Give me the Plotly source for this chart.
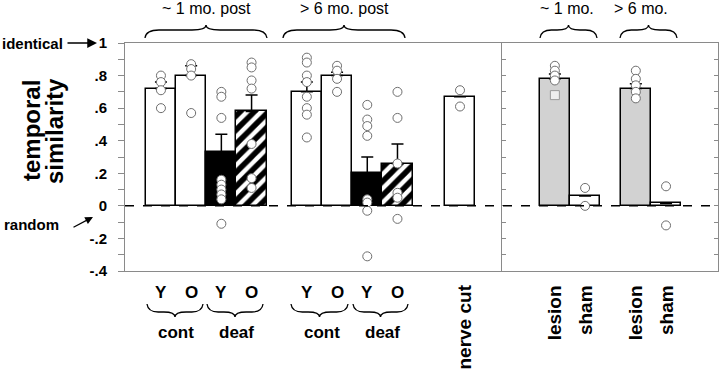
import plotly.graph_objects as go

# ---------------- data ----------------
left_labels = ["Y", "O", "Y", "O", "Y", "O", "Y", "O", "nerve cut"]
left_means = [0.72, 0.80, 0.33, 0.58, 0.70, 0.80, 0.20, 0.26, 0.67]
left_se = [0.04, 0.06, 0.11, 0.10, 0.06, 0.02, 0.10, 0.12, None]
left_points = [
    [0.80, 0.76, 0.71, 0.60],
    [0.87, 0.84, 0.80, 0.57],
    [0.70, 0.67, 0.54, 0.16, 0.13, 0.10, 0.07, 0.04, -0.11],
    [0.88, 0.85, 0.77, 0.72, 0.38, 0.17, 0.11],
    [0.91, 0.88, 0.80, 0.76, 0.67, 0.60, 0.56, 0.42],
    [0.86, 0.83, 0.78, 0.70],
    [0.62, 0.53, 0.49, 0.43, 0.04, 0.02, -0.03, -0.31],
    [0.70, 0.54, 0.26, 0.08, 0.05, -0.08],
    [0.71, 0.61],
]
left_pairs = ["cont", "deaf", "cont", "deaf"]
left_times = ["~ 1 mo. post", "> 6 mo. post"]

right_labels = ["lesion", "sham", "lesion", "sham"]
right_means = [0.78, 0.06, 0.72, 0.015]
right_se = [0.03, None, 0.03, None]
right_points = [
    [0.86, 0.83, 0.80, 0.77],
    [0.11, 0.00],
    [0.83, 0.78, 0.74, 0.70, 0.66],
    [0.12, -0.12],
]
right_square = [[0.68], [], [], []]
right_times = ["~ 1 mo.", "> 6 mo."]

y_tickvals = [-0.4, -0.2, 0, 0.2, 0.4, 0.6, 0.8, 1.0]
y_ticktext = ["-.4", "-.2", "0", ".2", ".4", ".6", ".8", "1"]

# ---------------- layout constants ----------------
FONT = "Liberation Sans, Arial, Helvetica, sans-serif"
W_PX, H_PX = 720, 373
L, T, R, B = 125, 43, 2, 102
PW, PH = W_PX - L - R, H_PX - T - B
DIV = 502  # panel divider pixel
left_x = [1, 2, 3, 4, 5.83, 6.83, 7.83, 8.83, 10.9]
right_x = [1.75, 2.75, 4.43, 5.43]
left_style = ["open", "open", "solid", "hatch", "open", "open", "solid", "hatch", "open"]
right_style = ["gray", "open", "gray", "open"]
GRAY = "#8a8a8a"


def xp(px):
    return (px - L) / PW


def yp(py):
    return (T + PH - py) / PH


fig = go.Figure()

err_style = dict(type="data", symmetric=False, color="black", thickness=1.5, width=6)
fills = {"open": "white", "solid": "black", "gray": "#d2d2d2"}


def add_bars(xs, means, ses, styles, xa, ya):
    for st in sorted(set(styles)):
        idx = [i for i, s in enumerate(styles) if s == st]
        bx = [xs[i] for i in idx]
        by = [means[i] for i in idx]
        be = [ses[i] for i in idx]
        if st == "hatch":
            marker = dict(color="white", line=dict(color="black", width=1.5),
                          pattern=dict(shape="/", fgcolor="black", bgcolor="white",
                                       fgopacity=1, size=10, solidity=0.55))
        else:
            marker = dict(color=fills[st], line=dict(color="black", width=1.5))
        fig.add_trace(go.Bar(
            x=bx, y=by, width=1.0, marker=marker,
            error_y=dict(array=be, arrayminus=[0] * len(be), **err_style),
            xaxis=xa, yaxis=ya, showlegend=False))


add_bars(left_x, left_means, left_se, left_style, "x", "y")
add_bars(right_x, right_means, right_se, right_style, "x2", "y2")

circ = dict(symbol="circle", size=9, color="white", line=dict(color="#6e6e6e", width=1))


def add_points(xs, groups, xa, ya, marker):
    px_, py_ = [], []
    for xv, pts in zip(xs, groups):
        for v in pts:
            px_.append(xv)
            py_.append(v)
    fig.add_trace(go.Scatter(x=px_, y=py_, mode="markers", marker=marker,
                             xaxis=xa, yaxis=ya, showlegend=False))


add_points(left_x, left_points, "x", "y", circ)
add_points(right_x, right_points, "x2", "y2", circ)
add_points(right_x, right_square, "x2", "y2",
           dict(symbol="square", size=9, color="#eeeeee",
                line=dict(color="#9a9a9a", width=1)))

# ---------------- shapes ----------------
shapes = []
shapes.append(dict(type="line", xref="paper", yref="y", x0=0, x1=1, y0=0, y1=0,
                   line=dict(color="black", width=1.5, dash="dash"), layer="above"))


def brace(x0, x1, y_end, y_body, y_tip):
    xc = (x0 + x1) / 2
    r = min(14, (x1 - x0) / 5)
    pts = [
        f"M {xp(x0)},{yp(y_end)}",
        f"Q {xp(x0 + 1)},{yp(y_body)} {xp(x0 + r)},{yp(y_body)}",
        f"L {xp(xc - r)},{yp(y_body)}",
        f"Q {xp(xc)},{yp(y_body)} {xp(xc)},{yp(y_tip)}",
        f"Q {xp(xc)},{yp(y_body)} {xp(xc + r)},{yp(y_body)}",
        f"L {xp(x1 - r)},{yp(y_body)}",
        f"Q {xp(x1 - 1)},{yp(y_body)} {xp(x1)},{yp(y_end)}",
    ]
    return dict(type="path", xref="paper", yref="paper", path=" ".join(pts),
                line=dict(color="black", width=1.3))


shapes.append(brace(145, 267, 38, 30, 25))
shapes.append(brace(283, 405, 38, 30, 25))
shapes.append(brace(540, 597, 38, 30, 25))
shapes.append(brace(620, 677, 38, 30, 25))
shapes.append(brace(147, 203, 304, 312, 317))
shapes.append(brace(207, 263, 304, 312, 317))
shapes.append(brace(291, 348, 304, 312, 317))
shapes.append(brace(353, 408, 304, 312, 317))

# ---------------- annotations ----------------
ann = []


def text(t, px, py, size, bold=False, angle=0, xanchor="center", yanchor="middle"):
    s = f"<b>{t}</b>" if bold else t
    ann.append(dict(text=s, x=xp(px), y=yp(py), xref="paper", yref="paper",
                    showarrow=False, textangle=angle, xanchor=xanchor, yanchor=yanchor,
                    font=dict(family=FONT, size=size, color="black")))


text(left_times[0], 206, 9, 16)
text(left_times[1], 344, 9, 16)
text(right_times[0], 567, 9, 16)
text(right_times[1], 641, 9, 16)

text("temporal", 31, 131, 24, bold=True, angle=-90)
text("similarity", 54, 131, 24, bold=True, angle=-90)

text("identical", 32, 43, 15, bold=True)
text("random", 31, 224, 15, bold=True)
ann.append(dict(text="", x=xp(97), y=yp(43), xref="paper", yref="paper",
                ax=-31, ay=0, showarrow=True, arrowhead=2, arrowsize=1.3,
                arrowwidth=1.5, arrowcolor="black"))
ann.append(dict(text="", x=xp(93), y=yp(217), xref="paper", yref="paper",
                ax=-21, ay=11, showarrow=True, arrowhead=2, arrowsize=1.2,
                arrowwidth=1.3, arrowcolor="black"))

for xv, lab in zip(left_x[:8], left_labels[:8]):
    ann.append(dict(text=f"<b>{lab}</b>", x=xv, y=yp(292), xref="x", yref="paper",
                    xanchor="center", yanchor="middle", showarrow=False,
                    font=dict(family=FONT, size=17, color="black")))
for i, lab in enumerate(left_pairs):
    xc = (left_x[2 * i] + left_x[2 * i + 1]) / 2
    ann.append(dict(text=f"<b>{lab}</b>", x=xc, y=yp(332), xref="x", yref="paper",
                    xanchor="center", yanchor="middle", showarrow=False,
                    font=dict(family=FONT, size=17, color="black")))
ann.append(dict(text=f"<b>{left_labels[8]}</b>", x=left_x[8], y=yp(283), xref="x",
                yref="paper", showarrow=False, textangle=-90, xanchor="center",
                yanchor="top", xshift=4, font=dict(family=FONT, size=19, color="black")))
for xv, lab in zip(right_x, right_labels):
    ann.append(dict(text=f"<b>{lab}</b>", x=xv, y=yp(283), xref="x2",
                    yref="paper", showarrow=False, textangle=-90, xanchor="center",
                    yanchor="top", font=dict(family=FONT, size=19, color="black")))

ydiv = (DIV - L) / PW

fig.update_layout(
    width=W_PX, height=H_PX,
    margin=dict(l=L, r=R, t=T, b=B, pad=0),
    paper_bgcolor="white", plot_bgcolor="white",
    font=dict(family=FONT, color="black"),
    barmode="overlay", bargap=0,
    shapes=shapes, annotations=ann,
    xaxis=dict(domain=[0, ydiv], range=[-0.19, 12.29], showticklabels=False,
               ticks="", showgrid=False, zeroline=False, showline=True,
               linecolor=GRAY, linewidth=1, mirror=True),
    xaxis2=dict(domain=[ydiv, 1], range=[0, 7.15], showticklabels=False,
                ticks="", showgrid=False, zeroline=False, showline=True,
                linecolor=GRAY, linewidth=1, mirror=True, anchor="y2"),
    yaxis=dict(range=[-0.4, 1.0], tickvals=y_tickvals,
               ticktext=[f"<b>{t}</b>" for t in y_ticktext],
               tickfont=dict(family=FONT, size=15, color="black"),
               ticks="outside", ticklen=6, tickcolor=GRAY, tickwidth=1,
               ticklabelstandoff=8,
               minor=dict(dtick=0.1, ticks="outside", ticklen=6, tickcolor=GRAY),
               showgrid=False, zeroline=False, showline=True, linecolor=GRAY,
               linewidth=1, anchor="x"),
    yaxis2=dict(range=[-0.4, 1.0], tickvals=y_tickvals, showticklabels=False,
                ticks="inside", ticklen=4, tickcolor=GRAY, tickwidth=1,
                minor=dict(dtick=0.1, ticks="inside", ticklen=4, tickcolor=GRAY),
                showgrid=False, zeroline=False, showline=True, linecolor=GRAY,
                linewidth=1, mirror="ticks", anchor="x2"),
)

fig.write_html("out.html", config={"displayModeBar": False},
               post_script="document.body.style.margin='0px';")
